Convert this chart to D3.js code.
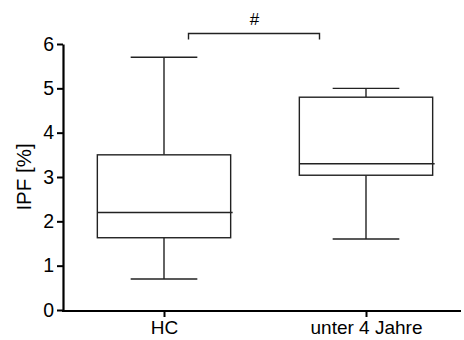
<!DOCTYPE html>
<html>
<head>
<meta charset="utf-8">
<script src="https://cdn.jsdelivr.net/npm/d3@7"></script>
<style>
  html, body { margin: 0; padding: 0; background: #fff; }
  svg { display: block; }
  text { font-family: Arial, "Liberation Sans", sans-serif; fill: #000; }
</style>
</head>
<body>
<svg id="chart" width="464" height="340"></svg>
<script>
// Box-plot summary values per group
const groups  = ["HC", "unter 4 Jahre"];
const mins    = [0.7, 1.6];
const q1s     = [1.63, 3.04];
const medians = [2.2, 3.3];
const q3s     = [3.5, 4.8];
const maxs    = [5.7, 5.0];
const yTicks  = [0, 1, 2, 3, 4, 5, 6];
const yLabel  = "IPF [%]";
const sigLabel = "#";

const svg = d3.select("#chart");

const y = d3.scaleLinear().domain([0, 6]).range([310, 44]);
const x = d3.scalePoint().domain(groups).range([63, 467]).padding(0.5);
const step = x.step();
const boxW = step * 0.66;
const capW = boxW * 0.5;

// Y axis
const yAxis = svg.append("g")
  .attr("transform", "translate(63,0)")
  .call(d3.axisLeft(y).tickValues(yTicks).tickSize(6).tickSizeOuter(0).tickPadding(3).tickFormat(d3.format("d")));
yAxis.select(".domain").attr("stroke", "#000").attr("stroke-width", 2.2);
yAxis.selectAll(".tick line").attr("stroke", "#000").attr("stroke-width", 2);
yAxis.selectAll(".tick text").style("font-size", "19.5px").attr("fill", "#000");

// X axis
const xAxis = svg.append("g")
  .attr("transform", "translate(0,311)")
  .call(d3.axisBottom(x).tickSize(6).tickSizeOuter(0).tickPadding(4));
xAxis.select(".domain").remove();
xAxis.selectAll(".tick line").attr("stroke", "#000").attr("stroke-width", 2);
xAxis.selectAll(".tick text").style("font-size", "19px").attr("fill", "#000");
svg.append("line")
  .attr("x1", 62).attr("x2", 461)
  .attr("y1", 311).attr("y2", 311)
  .attr("stroke", "#000").attr("stroke-width", 2.2);

// Y axis title
svg.append("text")
  .attr("transform", "translate(31,177) rotate(-90)")
  .attr("text-anchor", "middle")
  .style("font-size", "20.5px")
  .text(yLabel);

// Boxes
const stroke = "#222";
const sw = 1.4;
const g = svg.append("g");
groups.forEach((grp, i) => {
  const cx = x(grp);
  const bx = g.append("g");
  // whiskers
  bx.append("line").attr("x1", cx).attr("x2", cx).attr("y1", y(q3s[i])).attr("y2", y(maxs[i]))
    .attr("stroke", stroke).attr("stroke-width", sw);
  bx.append("line").attr("x1", cx).attr("x2", cx).attr("y1", y(q1s[i])).attr("y2", y(mins[i]))
    .attr("stroke", stroke).attr("stroke-width", sw);
  // caps
  bx.append("line").attr("x1", cx - capW / 2).attr("x2", cx + capW / 2).attr("y1", y(maxs[i])).attr("y2", y(maxs[i]))
    .attr("stroke", stroke).attr("stroke-width", sw);
  bx.append("line").attr("x1", cx - capW / 2).attr("x2", cx + capW / 2).attr("y1", y(mins[i])).attr("y2", y(mins[i]))
    .attr("stroke", stroke).attr("stroke-width", sw);
  // box
  bx.append("rect")
    .attr("x", cx - boxW / 2).attr("width", boxW)
    .attr("y", y(q3s[i])).attr("height", y(q1s[i]) - y(q3s[i]))
    .attr("fill", "#fff").attr("stroke", stroke).attr("stroke-width", sw);
  // median
  bx.append("line").attr("x1", cx - boxW / 2).attr("x2", cx + boxW / 2 + 2)
    .attr("y1", y(medians[i])).attr("y2", y(medians[i]))
    .attr("stroke", stroke).attr("stroke-width", sw);
});

// Significance bracket between the groups
const bx1 = x(groups[0]) + 24.5, bx2 = x(groups[1]) - 46.5;
const by = 33.5;
svg.append("path")
  .attr("d", `M${bx1},${by + 6}V${by}H${bx2}V${by + 6}`)
  .attr("fill", "none").attr("stroke", stroke).attr("stroke-width", sw);
svg.append("text")
  .attr("x", (bx1 + bx2) / 2 + 0.5).attr("y", 25)
  .attr("text-anchor", "middle")
  .style("font-size", "17px")
  .text(sigLabel);
</script>
</body>
</html>
